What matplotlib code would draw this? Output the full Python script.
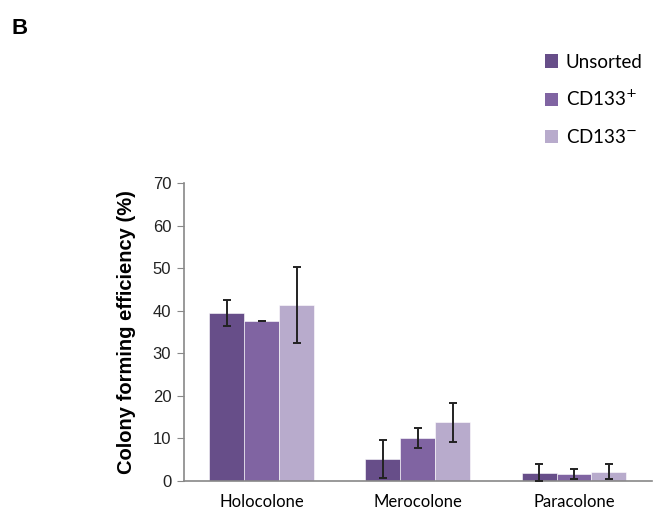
import numpy as np
import matplotlib.pyplot as plt
from matplotlib.patches import Patch

# Colony forming efficiency per clone type
categories = ['Holocolone', 'Merocolone', 'Paracolone']
groups = ['Unsorted', 'CD133$^{+}$', 'CD133$^{-}$']
means = {
    'Unsorted': [39.4, 5.2, 2.0],
    'CD133+': [37.6, 10.1, 1.7],
    'CD133-': [41.3, 13.8, 2.2],
}
errors = {
    'Unsorted': [3.1, 4.5, 2.1],
    'CD133+': [0.1, 2.4, 1.2],
    'CD133-': [8.9, 4.6, 1.8],
}
colors = ['#674e89', '#8064a2', '#b8abcc']

fig = plt.figure(figsize=(6.54, 5.12), dpi=100)
ax = fig.add_axes([0.281, 0.0605, 0.716, 0.582])

x = np.arange(len(categories))
width = 0.224
for i, key in enumerate(['Unsorted', 'CD133+', 'CD133-']):
    pos = x + (i - 1) * width
    ax.bar(pos, means[key], width=width, color=colors[i], edgecolor='white',
           linewidth=0.4, zorder=2)
    ax.errorbar(pos, means[key], yerr=errors[key], fmt='none', ecolor='#222222',
                elinewidth=1.4, capsize=3, capthick=1.4, zorder=3)

ax.set_xlim(-0.5, 2.5)
ax.set_ylim(0, 70)
ax.set_yticks(range(0, 71, 10))
ax.set_xticks(x)
ax.set_xticklabels(categories, fontfamily='Lato', fontsize=12)
ax.tick_params(axis='x', length=0, pad=9)
ax.tick_params(axis='y', length=5, color='#888888', labelsize=12, pad=4)
for lab in ax.get_yticklabels():
    lab.set_fontfamily('Liberation Sans')
    lab.set_color('#222222')

for side in ['top', 'right']:
    ax.spines[side].set_visible(False)
for side in ['left', 'bottom']:
    ax.spines[side].set_color('#888888')
    ax.spines[side].set_linewidth(1.2)

ax.set_ylabel('Colony forming efficiency (%)', fontfamily='Liberation Sans',
              fontweight='bold', fontsize=14.5, labelpad=12)

handles = [Patch(facecolor=c) for c in colors]
fig.legend(handles, groups, loc='upper left', bbox_to_anchor=(0.822, 0.91),
           frameon=False, prop={'family': 'Lato', 'size': 13.5},
           handlelength=0.7, handleheight=0.7, handletextpad=0.4,
           labelspacing=1.0, borderaxespad=0)

fig.text(0.018, 0.965, 'B', fontfamily='Liberation Sans', fontweight='bold',
         fontsize=16, va='top')

fig.savefig('out.png', dpi=100)
